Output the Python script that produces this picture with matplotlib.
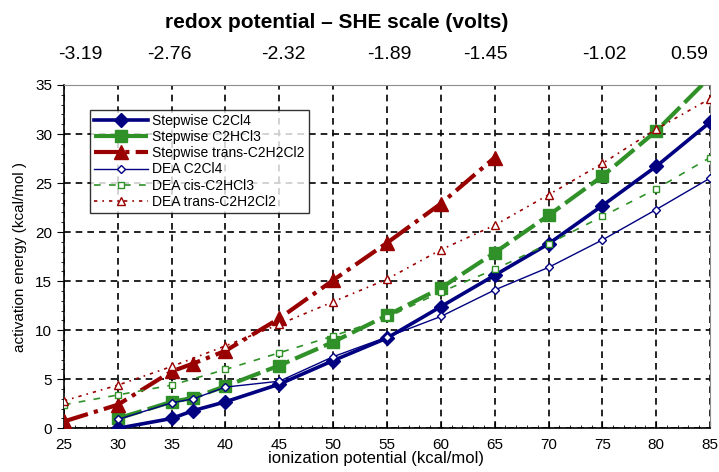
import matplotlib

matplotlib.use("Agg")
import matplotlib.pyplot as plt
from matplotlib.ticker import MultipleLocator, FixedLocator

plt.rcParams["font.family"] = ["Liberation Sans", "DejaVu Sans"]

# ionization potential (kcal/mol) and activation energies (kcal/mol)
step_c2cl4_x = [30, 35, 37, 40, 45, 50, 55, 60, 65, 70, 75, 80, 85]
step_c2cl4_y = [0.0, 1.0, 1.8, 2.7, 4.5, 6.9, 9.2, 12.4, 15.6, 18.8, 22.7, 26.7, 31.2]

step_c2hcl3_x = [30, 35, 37, 40, 45, 50, 55, 60, 65, 70, 75, 80, 85]
step_c2hcl3_y = [1.0, 2.7, 3.1, 4.3, 6.4, 8.8, 11.5, 14.3, 17.9, 21.7, 25.7, 30.3, 35.8]

step_trans_x = [25, 30, 35, 37, 40, 45, 50, 55, 60, 65]
step_trans_y = [0.7, 2.4, 5.8, 6.6, 7.9, 11.2, 15.1, 18.9, 22.9, 27.6]

dea_c2cl4_x = [30, 35, 37, 40, 45, 50, 55, 60, 65, 70, 75, 80, 85]
dea_c2cl4_y = [0.9, 2.6, 3.0, 4.2, 4.8, 7.3, 9.3, 11.4, 14.1, 16.4, 19.2, 22.3, 25.5]

dea_cis_x = [25, 30, 35, 40, 45, 50, 55, 60, 65, 70, 75, 80, 85]
dea_cis_y = [2.4, 3.4, 4.4, 6.0, 7.7, 9.4, 11.3, 13.9, 16.2, 18.8, 21.6, 24.4, 27.6]

dea_trans_x = [25, 30, 35, 40, 45, 50, 55, 60, 65, 70, 75, 80, 85]
dea_trans_y = [2.8, 4.4, 6.3, 8.4, 10.6, 12.9, 15.2, 18.2, 20.7, 23.8, 27.0, 30.5, 33.6]

# top axis: redox potential labels (placed as in the original)
redox_pos = [26.5, 34.8, 45.4, 55.2, 64.1, 75.2, 83.1]
redox_labels = ["-3.19", "-2.76", "-2.32", "-1.89", "-1.45", "-1.02", "0.59"]

NAVY = "#000080"
GREEN = "#2f9127"
RED = "#990000"

fig = plt.figure(figsize=(7.19, 4.72), dpi=100)
ax = fig.add_axes([0.089, 0.0926, 0.8985, 0.7274])

ax.plot(step_c2cl4_x, step_c2cl4_y, color=NAVY, linewidth=2.6, marker="D",
        markersize=7, label="Stepwise C2Cl4", zorder=5)
ax.plot(step_c2hcl3_x, step_c2hcl3_y, color=GREEN, linewidth=3.0, marker="s",
        markersize=8.5, dashes=(6, 1.5), label="Stepwise C2HCl3", zorder=4)
ax.plot(step_trans_x, step_trans_y, color=RED, linewidth=3.0, marker="^",
        markersize=10, dashes=(6, 1.5, 1, 1.5), label="Stepwise trans-C2H2Cl2", zorder=4)
ax.plot(dea_c2cl4_x, dea_c2cl4_y, color=NAVY, linewidth=1.0, marker="D",
        markersize=4.5, markerfacecolor="white", markeredgewidth=1.0,
        label="DEA C2Cl4", zorder=6)
ax.plot(dea_cis_x, dea_cis_y, color=GREEN, linewidth=1.2, marker="s",
        markersize=4.5, markerfacecolor="white", markeredgewidth=1.0,
        dashes=(4, 5), label="DEA cis-C2HCl3", zorder=6)
ax.plot(dea_trans_x, dea_trans_y, color=RED, linewidth=1.2, marker="^",
        markersize=6, markerfacecolor="white", markeredgewidth=1.0,
        dashes=(2, 3, 1, 3), label="DEA trans-C2H2Cl2", zorder=6)

ax.set_xlim(25, 85)
ax.set_ylim(0, 35)
ax.xaxis.set_major_locator(MultipleLocator(5))
ax.xaxis.set_minor_locator(MultipleLocator(1))
ax.yaxis.set_major_locator(MultipleLocator(5))
ax.yaxis.set_minor_locator(MultipleLocator(1))
ax.tick_params(axis="x", which="major", direction="in", length=5, labelsize=11, pad=7)
ax.tick_params(axis="x", which="minor", direction="in", length=2.5)
ax.tick_params(axis="y", which="major", direction="out", length=5, labelsize=11)
ax.tick_params(axis="y", which="minor", direction="out", length=2.5)
ax.grid(which="major", color="black", linestyle=(0, (4, 3)), linewidth=1.2)

for side in ("top", "right"):
    ax.spines[side].set_color("#8c8c8c")
for side in ("left", "bottom"):
    ax.spines[side].set_linewidth(1.2)

ax.set_xlabel("ionization potential (kcal/mol)", fontsize=12, labelpad=-1)
ax.xaxis.label.set_x((376 - 64) / 646)
ax.set_ylabel("activation energy (kcal/mol )", fontsize=11, labelpad=6)

top = ax.twiny()
top.set_xlim(ax.get_xlim())
top.xaxis.set_major_locator(FixedLocator(redox_pos))
top.set_xticklabels(redox_labels)
top.tick_params(axis="x", length=0, labelsize=14, pad=16)
top.set_xlabel("redox potential \u2013 SHE scale (volts)", fontsize=15,
               fontweight="bold", labelpad=13)
top.xaxis.label.set_x((337 - 64) / 646)
for spine in top.spines.values():
    spine.set_visible(False)

leg = ax.legend(loc="upper left", bbox_to_anchor=(0.04, 0.927), fontsize=10,
                frameon=True, fancybox=False, edgecolor="black", borderaxespad=0,
                handlelength=3.9, labelspacing=0.15, borderpad=0.3,
                handletextpad=0.3)
leg.get_frame().set_linewidth(1.0)

fig.savefig("out.png", dpi=100)
